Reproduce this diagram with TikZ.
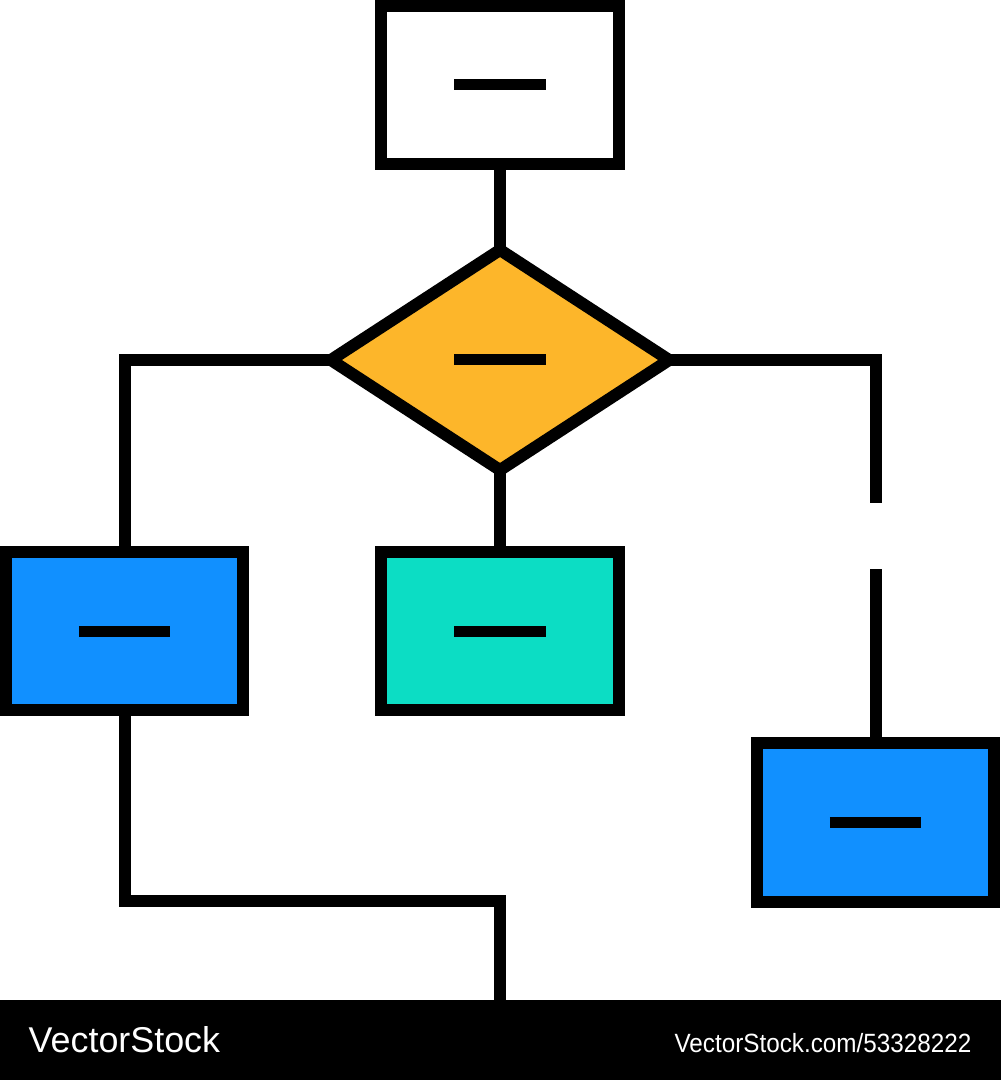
\documentclass[tikz,border=0pt]{standalone}
\usepackage{fontspec}
\setmainfont{Liberation Sans}
\newfontfamily\narrowfont[FakeStretch=0.92]{Liberation Sans}
\usetikzlibrary{shapes.geometric}
\definecolor{cOrange}{HTML}{FDB62A}
\definecolor{cBlue}{HTML}{1190FF}
\definecolor{cTeal}{HTML}{0CDDC4}
\begin{document}
\begin{tikzpicture}[x={(0.01cm,0)},y={(0,-0.01cm)},
  line join=miter,
  boxstyle/.style={draw=black, line width=12*0.2845pt, rectangle, inner sep=0pt, outer sep=0pt,
     minimum width=2.37cm, minimum height=1.58cm},
  decstyle/.style={draw=black, line width=12*0.2845pt, diamond, inner sep=0pt, outer sep=0pt,
     minimum width=3.38cm, minimum height=2.2cm, fill=cOrange},
  wire/.style={draw=black, line width=12*0.2845pt},
  barline/.style={draw=black, line width=11*0.2845pt}]
\useasboundingbox (0,0) rectangle (1000,1080);
% nodes
\node[boxstyle, fill=white, minimum width=2.38cm, minimum height=1.575cm] (top) at (500,84.75) {};
\node[decstyle] (dec) at (500,360) {};
\node[boxstyle, fill=cBlue] (left) at (124.5,631) {};
\node[boxstyle, fill=cTeal] (mid) at (500,631) {};
\node[boxstyle, fill=cBlue] (right) at (875.5,822.5) {};
% placeholder bars
\foreach \n in {top,dec,left,mid,right}
  \draw[barline] ([xshift=-0.455cm]\n.center) -- ([xshift=0.455cm]\n.center);
% connectors
\coordinate (gapA) at (875.5,503);
\coordinate (gapB) at (875.5,569);
\coordinate (turn) at (500,901);
\coordinate (bottomend) at (500,1000);
\draw[wire] (top.south) -- (dec.north);
\draw[wire] (dec.west) -| (left.north);
\draw[wire] (dec.south) -- (mid.north);
\draw[wire] (dec.east) -| (gapA);
\draw[wire] (gapB) -- (right.north);
\draw[wire] (left.south) |- (turn) -- (bottomend);
% banner
\node[fill=black, inner sep=0pt, outer sep=0pt, minimum width=10cm, minimum height=0.8cm, anchor=north west] (banner) at (0,1000) {};
\node[text=white, inner sep=0pt, anchor=base west, font=\fontsize{10.2pt}{12pt}\selectfont] (brand) at (28,1052) {VectorStock};
\node[text=white, inner sep=0pt, anchor=base east, font=\narrowfont\fontsize{7.5pt}{9pt}\selectfont] (url) at (972,1052) {VectorStock.com/53328222};
\end{tikzpicture}
\end{document}
